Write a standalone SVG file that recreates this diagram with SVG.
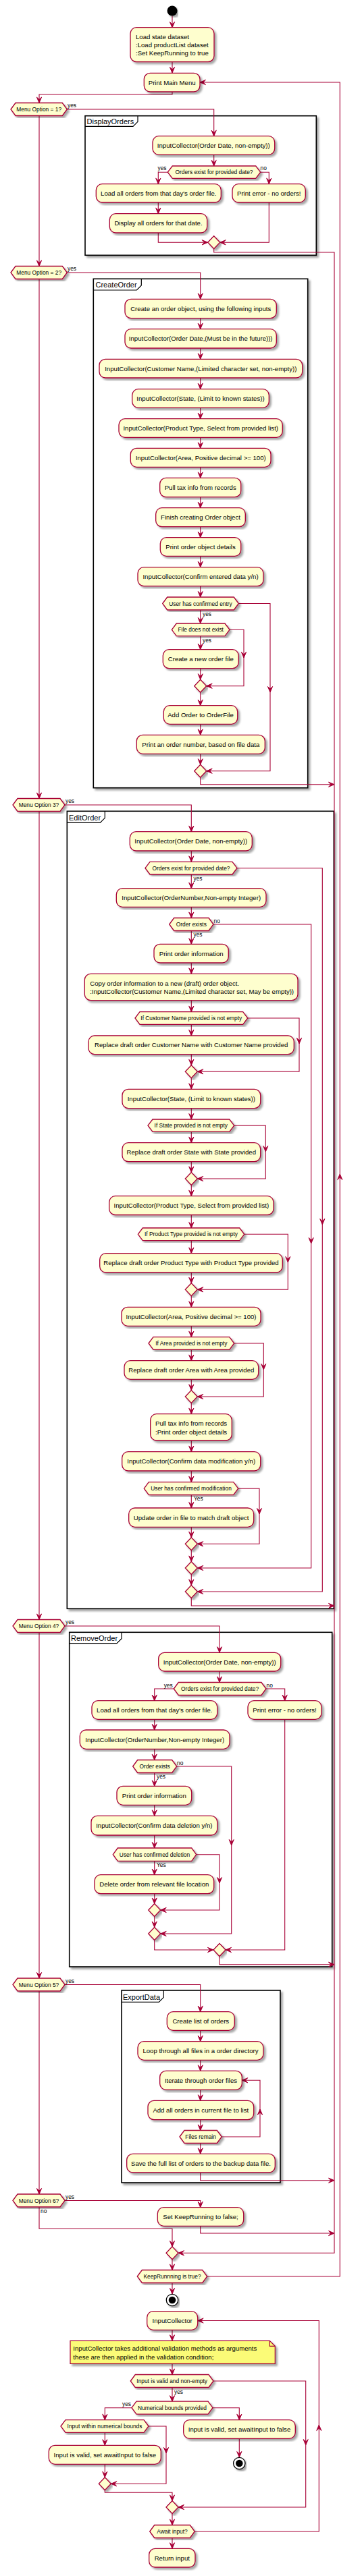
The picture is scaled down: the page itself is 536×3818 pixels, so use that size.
<svg xmlns="http://www.w3.org/2000/svg" xmlns:xlink="http://www.w3.org/1999/xlink" width="536" height="3818" viewBox="0 0 536 3818">
<defs>
<filter id="sh" x="-5%" y="-5%" width="115%" height="120%">
<feGaussianBlur in="SourceAlpha" stdDeviation="1.4"/>
<feOffset dx="3" dy="3" result="o"/>
<feComponentTransfer><feFuncA type="linear" slope="0.35"/></feComponentTransfer>
<feMerge><feMergeNode/><feMergeNode in="SourceGraphic"/></feMerge>
</filter>
<path id="ad" class="ah" d="M0,0 L-3.6,-8.5 L0,-5 L3.6,-8.5 Z"/>
<path id="au" class="ah" d="M0,0 L-3.6,8.5 L0,5 L3.6,8.5 Z"/>
<path id="ar" class="ah" d="M0,0 L-8.5,-3.6 L-5,0 L-8.5,3.6 Z"/>
<path id="al" class="ah" d="M0,0 L8.5,-3.6 L5,0 L8.5,3.6 Z"/>
</defs>
<style>
.box{fill:#FEFECE;stroke:#A80036;stroke-width:1.3;filter:url(#sh)}
.hex{fill:#FEFECE;stroke:#A80036;stroke-width:1.3;filter:url(#sh)}
.frm{fill:#fff;stroke:#000;stroke-width:1.6;filter:url(#sh)}
.tab{fill:none;stroke:#000;stroke-width:1.2}
.note{fill:#FBFB77;stroke:#A80036;stroke-width:1.2;filter:url(#sh)}
.ln{fill:none;stroke:#A80036;stroke-width:1.1}
.ah{fill:#A80036;stroke:#A80036;stroke-width:1}
text{font-family:"Liberation Sans",Arial,sans-serif;fill:#000}
.t{font-size:9.6px;text-anchor:middle}
.tl{font-size:9.6px}
.ht{font-size:8.4px;text-anchor:middle}
.lb{font-size:8.4px}
.lbe{font-size:8.4px;text-anchor:end}
.ft{font-size:11px}
</style>
<rect x="0" y="0" width="536" height="3818" fill="#fff"/>

<g id="frames">
<g id="frame-displayorders"><rect class="frm" x="126" y="171.7" width="342.3" height="206.6"/><path class="tab" d="M126,187.3 H197 L204,180.3 V171.7"/><text class="ft" x="128.5" y="184.3">DisplayOrders</text></g>
<g id="frame-createorder"><rect class="frm" x="138.3" y="413.3" width="317.4" height="754.4"/><path class="tab" d="M138.3,430 H202.3 L209.3,423 V413.3"/><text class="ft" x="141.5" y="426.3">CreateOrder</text></g>
<g id="frame-editorder"><rect class="frm" x="99.3" y="1202.3" width="395" height="1182"/><path class="tab" d="M99.3,1219.3 H148.3 L155.3,1212.3 V1202.3"/><text class="ft" x="102" y="1216">EditOrder</text></g>
<g id="frame-removeorder"><rect class="frm" x="102.7" y="2419.3" width="389" height="495.7"/><path class="tab" d="M102.7,2435.7 H173 L180,2428.7 V2419.3"/><text class="ft" x="105" y="2432">RemoveOrder</text></g>
<g id="frame-exportdata"><rect class="frm" x="180" y="2950" width="235" height="285"/><path class="tab" d="M180,2967.3 H235.3 L242.3,2960.3 V2950"/><text class="ft" x="182" y="2963.5">ExportData</text></g>
</g>

<g id="connectors">
<path class="ln" d="M255,23.5 V41"/><use href="#ad" x="255" y="41"/>
<path class="ln" d="M255,92 V108"/><use href="#ad" x="255" y="108"/>
<path class="ln" d="M255,136 V140 H58 V152.5"/><use href="#ad" x="58" y="152.5"/>
<path class="ln" d="M99.3,162 H316.7 V201.7"/><use href="#ad" x="316.7" y="201.7"/>
<path class="ln" d="M316.7,229.3 V246"/><use href="#ad" x="316.7" y="246"/>
<path class="ln" d="M248.3,255.2 H234.3 V272.7"/><use href="#ad" x="234.3" y="272.7"/>
<path class="ln" d="M385.7,255.2 H398.3 V272.7"/><use href="#ad" x="398.3" y="272.7"/>
<path class="ln" d="M234.3,300 V316.7"/><use href="#ad" x="234.3" y="316.7"/>
<path class="ln" d="M234.3,345 V359.3 H307.7"/><use href="#ar" x="307.7" y="359.3"/>
<path class="ln" d="M398.3,300 V359.3 H325.7"/><use href="#al" x="325.7" y="359.3"/>
<path class="ln" d="M316.7,368.8 V374 H495 V3339.3 H264"/><use href="#al" x="264" y="3339.3"/>
<path class="ln" d="M58,171.5 V394.5"/><use href="#ad" x="58" y="394.5"/>
<path class="ln" d="M99.3,404 H296.7 V443.3"/><use href="#ad" x="296.7" y="443.3"/>
<path class="ln" d="M296.7,471.7 V487.7"/><use href="#ad" x="296.7" y="487.7"/>
<path class="ln" d="M296.7,516 V532.3"/><use href="#ad" x="296.7" y="532.3"/>
<path class="ln" d="M296.7,560 V576.7"/><use href="#ad" x="296.7" y="576.7"/>
<path class="ln" d="M296.7,604.3 V620.7"/><use href="#ad" x="296.7" y="620.7"/>
<path class="ln" d="M296.7,648.3 V664.3"/><use href="#ad" x="296.7" y="664.3"/>
<path class="ln" d="M296.7,692.3 V708.3"/><use href="#ad" x="296.7" y="708.3"/>
<path class="ln" d="M296.7,736.7 V752.7"/><use href="#ad" x="296.7" y="752.7"/>
<path class="ln" d="M296.7,780.7 V796.7"/><use href="#ad" x="296.7" y="796.7"/>
<path class="ln" d="M296.7,824.3 V840.7"/><use href="#ad" x="296.7" y="840.7"/>
<path class="ln" d="M296.7,868.7 V885"/><use href="#ad" x="296.7" y="885"/>
<path class="ln" d="M296.7,904 V924"/><use href="#ad" x="296.7" y="924"/>
<path class="ln" d="M296.7,942.7 V962.7"/><use href="#ad" x="296.7" y="962.7"/>
<path class="ln" d="M340,933.3 H361 V1016.7 H305.7"/><use href="#ad" x="361" y="975"/><use href="#al" x="305.7" y="1016.7"/>
<path class="ln" d="M296.7,990.7 V1007.2"/><use href="#ad" x="296.7" y="1007.2"/>
<path class="ln" d="M296.7,1026.2 V1045.7"/><use href="#ad" x="296.7" y="1045.7"/>
<path class="ln" d="M296.7,1073.3 V1089.3"/><use href="#ad" x="296.7" y="1089.3"/>
<path class="ln" d="M296.7,1117.3 V1133.2"/><use href="#ad" x="296.7" y="1133.2"/>
<path class="ln" d="M353.3,894.5 H400 V1142.7 H305.7"/><use href="#ad" x="400" y="1026"/><use href="#al" x="305.7" y="1142.7"/>
<path class="ln" d="M296.7,1152.2 V1162.7 H495"/><use href="#ar" x="495" y="1162.7"/>
<path class="ln" d="M58,413.5 V1183.5"/><use href="#ad" x="58" y="1183.5"/>
<path class="ln" d="M96,1193 H283.3 V1232.7"/><use href="#ad" x="283.3" y="1232.7"/>
<path class="ln" d="M283.3,1261 V1277.3"/><use href="#ad" x="283.3" y="1277.3"/>
<path class="ln" d="M283.3,1296 V1316.7"/><use href="#ad" x="283.3" y="1316.7"/>
<path class="ln" d="M283.3,1344.3 V1360.5"/><use href="#ad" x="283.3" y="1360.5"/>
<path class="ln" d="M283.3,1379.5 V1399.3"/><use href="#ad" x="283.3" y="1399.3"/>
<path class="ln" d="M283.3,1427 V1443.3"/><use href="#ad" x="283.3" y="1443.3"/>
<path class="ln" d="M283.3,1482.7 V1499.7"/><use href="#ad" x="283.3" y="1499.7"/>
<path class="ln" d="M283.3,1518.3 V1535"/><use href="#ad" x="283.3" y="1535"/>
<path class="ln" d="M283.3,1562.7 V1578.8"/><use href="#ad" x="283.3" y="1578.8"/>
<path class="ln" d="M366.7,1509 H443 V1588.3 H292.3"/><use href="#ad" x="443" y="1547"/><use href="#al" x="292.3" y="1588.3"/>
<path class="ln" d="M283.3,1597.8 V1614.3"/><use href="#ad" x="283.3" y="1614.3"/>
<path class="ln" d="M283.3,1642.7 V1659"/><use href="#ad" x="283.3" y="1659"/>
<path class="ln" d="M283.3,1677.3 V1693.7"/><use href="#ad" x="283.3" y="1693.7"/>
<path class="ln" d="M283.3,1721.7 V1737.5"/><use href="#ad" x="283.3" y="1737.5"/>
<path class="ln" d="M346.7,1668.2 H393.3 V1747 H292.3"/><use href="#ad" x="393.3" y="1707"/><use href="#al" x="292.3" y="1747"/>
<path class="ln" d="M283.3,1756.5 V1772.7"/><use href="#ad" x="283.3" y="1772.7"/>
<path class="ln" d="M283.3,1800.7 V1820"/><use href="#ad" x="283.3" y="1820"/>
<path class="ln" d="M283.3,1838.7 V1857.7"/><use href="#ad" x="283.3" y="1857.7"/>
<path class="ln" d="M283.3,1886 V1901.8"/><use href="#ad" x="283.3" y="1901.8"/>
<path class="ln" d="M361.7,1829.3 H426.3 V1911.3 H292.3"/><use href="#ad" x="426.3" y="1871"/><use href="#al" x="292.3" y="1911.3"/>
<path class="ln" d="M283.3,1920.8 V1937.3"/><use href="#ad" x="283.3" y="1937.3"/>
<path class="ln" d="M283.3,1965.3 V1981.7"/><use href="#ad" x="283.3" y="1981.7"/>
<path class="ln" d="M283.3,2000.3 V2016.7"/><use href="#ad" x="283.3" y="2016.7"/>
<path class="ln" d="M283.3,2044.3 V2060.5"/><use href="#ad" x="283.3" y="2060.5"/>
<path class="ln" d="M346.7,1991 H390.3 V2070 H292.3"/><use href="#ad" x="390.3" y="2030"/><use href="#al" x="292.3" y="2070"/>
<path class="ln" d="M283.3,2079.5 V2095.7"/><use href="#ad" x="283.3" y="2095.7"/>
<path class="ln" d="M283.3,2135 V2151.7"/><use href="#ad" x="283.3" y="2151.7"/>
<path class="ln" d="M283.3,2180 V2196.7"/><use href="#ad" x="283.3" y="2196.7"/>
<path class="ln" d="M283.3,2215.7 V2235"/><use href="#ad" x="283.3" y="2235"/>
<path class="ln" d="M283.3,2263.3 V2278.8"/><use href="#ad" x="283.3" y="2278.8"/>
<path class="ln" d="M352.7,2206.2 H384 V2288.3 H292.3"/><use href="#ad" x="384" y="2244"/><use href="#al" x="292.3" y="2288.3"/>
<path class="ln" d="M283.3,2297.8 V2314.5"/><use href="#ad" x="283.3" y="2314.5"/>
<path class="ln" d="M316,1370 H460.7 V2324 H292.3"/><use href="#ad" x="460.7" y="1843"/><use href="#al" x="292.3" y="2324"/>
<path class="ln" d="M283.3,2333.5 V2349.5"/><use href="#ad" x="283.3" y="2349.5"/>
<path class="ln" d="M351,1286.7 H477.3 V2359 H292.3"/><use href="#ad" x="477.3" y="1815"/><use href="#al" x="292.3" y="2359"/>
<path class="ln" d="M283.3,2368.5 V2380 H495"/><use href="#ar" x="495" y="2380"/>
<path class="ln" d="M58,1202.5 V2400.5"/><use href="#ad" x="58" y="2400.5"/>
<path class="ln" d="M96,2410 H325 V2449.3"/><use href="#ad" x="325" y="2449.3"/>
<path class="ln" d="M325,2477 V2493.5"/><use href="#ad" x="325" y="2493.5"/>
<path class="ln" d="M257.3,2503 H228.7 V2520.7"/><use href="#ad" x="228.7" y="2520.7"/>
<path class="ln" d="M394,2503 H421.7 V2520.7"/><use href="#ad" x="421.7" y="2520.7"/>
<path class="ln" d="M228.7,2548.3 V2564"/><use href="#ad" x="228.7" y="2564"/>
<path class="ln" d="M228.7,2592.3 V2608.5"/><use href="#ad" x="228.7" y="2608.5"/>
<path class="ln" d="M228.7,2627.5 V2647.3"/><use href="#ad" x="228.7" y="2647.3"/>
<path class="ln" d="M228.7,2675.3 V2691.3"/><use href="#ad" x="228.7" y="2691.3"/>
<path class="ln" d="M228.7,2720 V2739"/><use href="#ad" x="228.7" y="2739"/>
<path class="ln" d="M228.7,2758.3 V2778.7"/><use href="#ad" x="228.7" y="2778.7"/>
<path class="ln" d="M228.7,2806.7 V2821.5"/><use href="#ad" x="228.7" y="2821.5"/>
<path class="ln" d="M290.7,2748.7 H325 V2831 H237.7"/><use href="#ad" x="325" y="2791"/><use href="#al" x="237.7" y="2831"/>
<path class="ln" d="M228.7,2840.5 V2856.5"/><use href="#ad" x="228.7" y="2856.5"/>
<path class="ln" d="M261.7,2618 H342.7 V2866 H237.7"/><use href="#ad" x="342.7" y="2735"/><use href="#al" x="237.7" y="2866"/>
<path class="ln" d="M228.7,2875.5 V2890 H316"/><use href="#ar" x="316" y="2890"/>
<path class="ln" d="M421.7,2548.3 V2890 H334"/><use href="#al" x="334" y="2890"/>
<path class="ln" d="M325,2899.5 V2911.7 H495"/><use href="#ar" x="495" y="2911.7"/>
<path class="ln" d="M58,2419.5 V2932"/><use href="#ad" x="58" y="2932"/>
<path class="ln" d="M96,2941.5 H296.7 V2981.7"/><use href="#ad" x="296.7" y="2981.7"/>
<path class="ln" d="M296.7,3009.3 V3025.7"/><use href="#ad" x="296.7" y="3025.7"/>
<path class="ln" d="M296.7,3053.3 V3069.3"/><use href="#ad" x="296.7" y="3069.3"/>
<path class="ln" d="M296.7,3097.3 V3113.3"/><use href="#ad" x="296.7" y="3113.3"/>
<path class="ln" d="M296.7,3141.7 V3157.5"/><use href="#ad" x="296.7" y="3157.5"/>
<path class="ln" d="M328.3,3167 H385 V3083.3 H358.3"/><use href="#au" x="385" y="3126"/><use href="#al" x="358.3" y="3083.3"/>
<path class="ln" d="M296.7,3176.5 V3192.3"/><use href="#ad" x="296.7" y="3192.3"/>
<path class="ln" d="M296.7,3220 V3231.7 H495"/><use href="#ar" x="495" y="3231.7"/>
<path class="ln" d="M58,2951 V3252"/><use href="#ad" x="58" y="3252"/>
<path class="ln" d="M96,3261.5 H296.7 V3271.7"/><use href="#ad" x="296.7" y="3271.7"/>
<path class="ln" d="M296.7,3299.3 V3310 H495"/><use href="#ar" x="495" y="3310"/>
<path class="ln" d="M58,3271 V3303.3 H255 V3329.8"/><use href="#ad" x="255" y="3329.8"/>
<path class="ln" d="M255,3348.8 V3364.5"/><use href="#ad" x="255" y="3364.5"/>
<path class="ln" d="M306.7,3374 H503.3 V122 H296"/><use href="#au" x="503.3" y="1740"/><use href="#al" x="296" y="122"/>
<path class="ln" d="M255,3383.5 V3400"/><use href="#ad" x="255" y="3400"/>
<path class="ln" d="M255,3453.3 V3469.3"/><use href="#ad" x="255" y="3469.3"/>
<path class="ln" d="M255,3503.3 V3519.5"/><use href="#ad" x="255" y="3519.5"/>
<path class="ln" d="M255,3538.5 V3559.2"/><use href="#ad" x="255" y="3559.2"/>
<path class="ln" d="M195,3568.7 H155.3 V3586.7"/><use href="#ad" x="155.3" y="3586.7"/>
<path class="ln" d="M315,3568.7 H354.3 V3586.7"/><use href="#ad" x="354.3" y="3586.7"/>
<path class="ln" d="M155.3,3605.3 V3624.3"/><use href="#ad" x="155.3" y="3624.3"/>
<path class="ln" d="M354.3,3614.3 V3642"/><use href="#ad" x="354.3" y="3642"/>
<path class="ln" d="M220,3596 H246 V3681.3 H164.3"/><use href="#ad" x="246" y="3636"/><use href="#al" x="164.3" y="3681.3"/>
<path class="ln" d="M155.3,3652.3 V3671.8"/><use href="#ad" x="155.3" y="3671.8"/>
<path class="ln" d="M155.3,3690.8 V3694.3 H255 V3706.5"/><use href="#ad" x="255" y="3706.5"/>
<path class="ln" d="M316,3529 H452.7 V3716 H264"/><use href="#ad" x="452.7" y="3624"/><use href="#al" x="264" y="3716"/>
<path class="ln" d="M255,3725.5 V3742.5"/><use href="#ad" x="255" y="3742.5"/>
<path class="ln" d="M288.3,3752 H472.3 V3439.5 H292.7"/><use href="#au" x="472.3" y="3594"/><use href="#al" x="292.7" y="3439.5"/>
<path class="ln" d="M255,3761.5 V3777.3"/><use href="#ad" x="255" y="3777.3"/>
</g>

<g id="labels">
<text class="lb" x="100" y="159">yes</text>
<text class="lbe" x="246.5" y="252">yes</text><text class="lb" x="385.5" y="252">no</text>
<text class="lb" x="100" y="401">yes</text>
<text class="lb" x="300" y="912.5">yes</text>
<text class="lb" x="300" y="951.5">yes</text>
<text class="lb" x="97" y="1190">yes</text>
<text class="lb" x="286.5" y="1304.5">yes</text>
<text class="lb" x="316.5" y="1368">no</text>
<text class="lb" x="286.5" y="1387.5">yes</text>
<text class="lb" x="287" y="2224">Yes</text>
<text class="lb" x="97" y="2407">yes</text>
<text class="lbe" x="255.7" y="2500.5">yes</text><text class="lb" x="394.5" y="2500.5">no</text>
<text class="lb" x="262" y="2616">no</text>
<text class="lb" x="232" y="2636">yes</text>
<text class="lb" x="232" y="2767">Yes</text>
<text class="lb" x="97" y="2939">yes</text>
<text class="lb" x="97" y="3259">yes</text>
<text class="lb" x="60" y="3280">no</text>
<text class="lb" x="258" y="3547.5">yes</text>
<text class="lbe" x="194" y="3566">yes</text>
</g>

<g id="main">
<g id="start"><circle cx="255" cy="16" r="7.5" fill="#000" style="filter:url(#sh)"/></g>
<g id="load"><rect class="box" x="193" y="40.7" width="124" height="51" rx="9"/><text class="tl" x="201" y="57.8">Load state dataset</text><text class="tl" x="201" y="70">:Load productList dataset</text><text class="tl" x="201" y="82.2">:Set KeepRunning to true</text></g>
<g id="print-main-menu"><rect class="box" x="213.3" y="108.3" width="82.7" height="27.7" rx="9"/><text class="t" x="254.7" y="125.6">Print Main Menu</text></g>
<g id="opt1"><polygon class="hex" points="16,162 23,152.5 92.3,152.5 99.3,162 92.3,171.5 23,171.5"/><text class="ht" x="57.7" y="165">Menu Option = 1?</text></g>
<g id="opt2"><polygon class="hex" points="16,404 23,394.5 92.3,394.5 99.3,404 92.3,413.5 23,413.5"/><text class="ht" x="57.7" y="407">Menu Option = 2?</text></g>
<g id="opt3"><polygon class="hex" points="19,1193 26,1183.5 89,1183.5 96,1193 89,1202.5 26,1202.5"/><text class="ht" x="57.5" y="1196">Menu Option 3?</text></g>
<g id="opt4"><polygon class="hex" points="19,2410 26,2400.5 89,2400.5 96,2410 89,2419.5 26,2419.5"/><text class="ht" x="57.5" y="2413">Menu Option 4?</text></g>
<g id="opt5"><polygon class="hex" points="19,2941.5 26,2932 89,2932 96,2941.5 89,2951 26,2951"/><text class="ht" x="57.5" y="2944.5">Menu Option 5?</text></g>
<g id="opt6"><polygon class="hex" points="19,3261.5 26,3252 89,3252 96,3261.5 89,3271 26,3271"/><text class="ht" x="57.5" y="3264.5">Menu Option 6?</text></g>
<g id="set-false"><rect class="box" x="233.3" y="3271.7" width="127.4" height="27.6" rx="9"/><text class="t" x="297" y="3288.9">Set KeepRunning to false;</text></g>
<g id="merge-main"><polygon class="hex" points="255,3329.8 264,3339.3 255,3348.8 246,3339.3"/></g>
<g id="keeprunning"><polygon class="hex" points="203.3,3374 210.3,3364.5 299.7,3364.5 306.7,3374 299.7,3383.5 210.3,3383.5"/><text class="ht" x="255" y="3377">KeepRunnning is true?</text></g>
<g id="end1"><circle cx="255" cy="3409" r="8.7" fill="#fff" stroke="#000" stroke-width="1.3" style="filter:url(#sh)"/><circle cx="255" cy="3409" r="5.3" fill="#000"/></g>
</g>

<g id="displayorders">
<g id="d-input-date"><rect class="box" x="226" y="201.7" width="180.7" height="27.6" rx="9"/><text class="t" x="316.3" y="218.9">InputCollector(Order Date, non-empty))</text></g>
<g id="d-exist"><polygon class="hex" points="248.3,255.2 255.3,246 378.7,246 385.7,255.2 378.7,264.3 255.3,264.3"/><text class="ht" x="317" y="258.2">Orders exist for provided date?</text></g>
<g id="d-load"><rect class="box" x="142.3" y="272.7" width="185" height="27.3" rx="9"/><text class="t" x="234.8" y="289.7">Load all orders from that day's order file.</text></g>
<g id="d-error"><rect class="box" x="344" y="272.7" width="108.3" height="27.3" rx="9"/><text class="t" x="398.2" y="289.7">Print error - no orders!</text></g>
<g id="d-display"><rect class="box" x="162.3" y="316.7" width="144.4" height="28.3" rx="9"/><text class="t" x="234.5" y="334.2">Display all orders for that date.</text></g>
<g id="d-merge"><polygon class="hex" points="316.7,349.8 325.7,359.3 316.7,368.8 307.7,359.3"/></g>
</g>

<g id="createorder">
<g id="c-create"><rect class="box" x="185" y="443.3" width="224.3" height="28.4" rx="9"/><text class="t" x="297.2" y="460.9">Create an order object, using the following inputs</text></g>
<g id="c-date"><rect class="box" x="185" y="487.7" width="224.3" height="28.3" rx="9"/><text class="t" x="297.2" y="505.2">InputCollector(Order Date,(Must be in the future)))</text></g>
<g id="c-name"><rect class="box" x="147" y="532.3" width="300.7" height="27.7" rx="9"/><text class="t" x="297.3" y="549.6">InputCollector(Customer Name,(Limited character set, non-empty))</text></g>
<g id="c-state"><rect class="box" x="195.7" y="576.7" width="202.6" height="27.6" rx="9"/><text class="t" x="297" y="593.9">InputCollector(State, (Limit to known states))</text></g>
<g id="c-product"><rect class="box" x="176" y="620.7" width="242.3" height="27.6" rx="9"/><text class="t" x="297.2" y="637.9">InputCollector(Product Type, Select from provided list)</text></g>
<g id="c-area"><rect class="box" x="193.3" y="664.3" width="207.7" height="28" rx="9"/><text class="t" x="297.2" y="681.7">InputCollector(Area, Positive decimal &gt;= 100)</text></g>
<g id="c-tax"><rect class="box" x="236.7" y="708.3" width="120" height="28.4" rx="9"/><text class="t" x="296.7" y="725.9">Pull tax info from records</text></g>
<g id="c-finish"><rect class="box" x="230.7" y="752.7" width="132.6" height="28" rx="9"/><text class="t" x="297" y="770.1">Finish creating Order object</text></g>
<g id="c-print"><rect class="box" x="237.3" y="796.7" width="119.4" height="27.6" rx="9"/><text class="t" x="297" y="813.9">Print order object details</text></g>
<g id="c-confirm"><rect class="box" x="204" y="840.7" width="186" height="28" rx="9"/><text class="t" x="297" y="858.1">InputCollector(Confirm entered data y/n)</text></g>
<g id="c-confirmed"><polygon class="hex" points="240.7,894.5 247.7,885 346.3,885 353.3,894.5 346.3,904 247.7,904"/><text class="ht" x="297" y="897.5">User has confirmed entry</text></g>
<g id="c-nofile"><polygon class="hex" points="254.3,933.3 261.3,924 333,924 340,933.3 333,942.7 261.3,942.7"/><text class="ht" x="297.2" y="936.3">File does not exist</text></g>
<g id="c-newfile"><rect class="box" x="241.3" y="962.7" width="112" height="28" rx="9"/><text class="t" x="297.3" y="980.1">Create a new order file</text></g>
<g id="c-merge1"><polygon class="hex" points="296.7,1007.2 305.7,1016.7 296.7,1026.2 287.7,1016.7"/></g>
<g id="c-add"><rect class="box" x="242.3" y="1045.7" width="109.4" height="27.6" rx="9"/><text class="t" x="297" y="1062.9">Add Order to OrderFile</text></g>
<g id="c-number"><rect class="box" x="202.3" y="1089.3" width="190" height="28" rx="9"/><text class="t" x="297.3" y="1106.7">Print an order number, based on file data</text></g>
<g id="c-merge2"><polygon class="hex" points="296.7,1133.2 305.7,1142.7 296.7,1152.2 287.7,1142.7"/></g>
</g>

<g id="editorder">
<g id="e-date"><rect class="box" x="192.3" y="1232.7" width="181" height="28.3" rx="9"/><text class="t" x="282.8" y="1250.2">InputCollector(Order Date, non-empty))</text></g>
<g id="e-exist"><polygon class="hex" points="215,1286.7 222,1277.3 344,1277.3 351,1286.7 344,1296 222,1296"/><text class="ht" x="283" y="1289.7">Orders exist for provided date?</text></g>
<g id="e-number"><rect class="box" x="172.3" y="1316.7" width="221.7" height="27.6" rx="9"/><text class="t" x="283.2" y="1333.9">InputCollector(OrderNumber,Non-empty Integer)</text></g>
<g id="e-orderexists"><polygon class="hex" points="250.7,1370 257.7,1360.5 309,1360.5 316,1370 309,1379.5 257.7,1379.5"/><text class="ht" x="283.3" y="1373">Order exists</text></g>
<g id="e-print"><rect class="box" x="228" y="1399.3" width="110.3" height="27.7" rx="9"/><text class="t" x="283.2" y="1416.6">Print order information</text></g>
<g id="e-copy"><rect class="box" x="125.3" y="1443.3" width="315.7" height="39.4" rx="9"/><text class="tl" x="133.3" y="1460.8">Copy order information to a new (draft) order object.</text><text class="tl" x="133.3" y="1473">:InputCollector(Customer Name,(Limited character set, May be empty))</text></g>
<g id="e-ifname"><polygon class="hex" points="200,1509 207,1499.7 359.7,1499.7 366.7,1509 359.7,1518.3 207,1518.3"/><text class="ht" x="283.3" y="1512">If Customer Name provided is not empty</text></g>
<g id="e-repname"><rect class="box" x="131" y="1535" width="304.3" height="27.7" rx="9"/><text class="t" x="283.2" y="1552.2">Replace draft order Customer Name with Customer Name provided</text></g>
<g id="e-merge1"><polygon class="hex" points="283.3,1578.8 292.3,1588.3 283.3,1597.8 274.3,1588.3"/></g>
<g id="e-state"><rect class="box" x="181" y="1614.3" width="204.7" height="28.4" rx="9"/><text class="t" x="283.3" y="1631.9">InputCollector(State, (Limit to known states))</text></g>
<g id="e-ifstate"><polygon class="hex" points="219,1668.2 226,1659 339.7,1659 346.7,1668.2 339.7,1677.3 226,1677.3"/><text class="ht" x="282.8" y="1671.2">If State provided is not empty</text></g>
<g id="e-repstate"><rect class="box" x="181" y="1693.7" width="204.7" height="28" rx="9"/><text class="t" x="283.3" y="1711.1">Replace draft order State with State provided</text></g>
<g id="e-merge2"><polygon class="hex" points="283.3,1737.5 292.3,1747 283.3,1756.5 274.3,1747"/></g>
<g id="e-product"><rect class="box" x="161.7" y="1772.7" width="243.3" height="28" rx="9"/><text class="t" x="283.3" y="1790.1">InputCollector(Product Type, Select from provided list)</text></g>
<g id="e-ifproduct"><polygon class="hex" points="204.3,1829.3 211.3,1820 354.7,1820 361.7,1829.3 354.7,1838.7 211.3,1838.7"/><text class="ht" x="283" y="1832.3">If Product Type provided is not empty</text></g>
<g id="e-repproduct"><rect class="box" x="147.7" y="1857.7" width="270.6" height="28.3" rx="9"/><text class="t" x="283" y="1875.2">Replace draft order Product Type with Product Type provided</text></g>
<g id="e-merge3"><polygon class="hex" points="283.3,1901.8 292.3,1911.3 283.3,1920.8 274.3,1911.3"/></g>
<g id="e-area"><rect class="box" x="180" y="1937.3" width="206" height="28" rx="9"/><text class="t" x="283" y="1954.7">InputCollector(Area, Positive decimal &gt;= 100)</text></g>
<g id="e-ifarea"><polygon class="hex" points="220,1991 227,1981.7 339.7,1981.7 346.7,1991 339.7,2000.3 227,2000.3"/><text class="ht" x="283.3" y="1994">If Area provided is not empty</text></g>
<g id="e-reparea"><rect class="box" x="184" y="2016.7" width="198.7" height="27.6" rx="9"/><text class="t" x="283.3" y="2033.9">Replace draft order Area with Area provided</text></g>
<g id="e-merge4"><polygon class="hex" points="283.3,2060.5 292.3,2070 283.3,2079.5 274.3,2070"/></g>
<g id="e-tax"><rect class="box" x="222.7" y="2095.7" width="120.6" height="39.3" rx="9"/><text class="tl" x="230" y="2113.3">Pull tax info from records</text><text class="tl" x="230" y="2125.6">:Print order object details</text></g>
<g id="e-confirm"><rect class="box" x="180.7" y="2151.7" width="205" height="28.3" rx="9"/><text class="t" x="283.2" y="2169.2">InputCollector(Confirm data modification y/n)</text></g>
<g id="e-confirmed"><polygon class="hex" points="213.3,2206.2 220.3,2196.7 345.7,2196.7 352.7,2206.2 345.7,2215.7 220.3,2215.7"/><text class="ht" x="283" y="2209.2">User has confirmed modification</text></g>
<g id="e-update"><rect class="box" x="190.7" y="2235" width="185" height="28.3" rx="9"/><text class="t" x="283.2" y="2252.6">Update order in file to match draft object</text></g>
<g id="e-merge5"><polygon class="hex" points="283.3,2278.8 292.3,2288.3 283.3,2297.8 274.3,2288.3"/></g>
<g id="e-merge6"><polygon class="hex" points="283.3,2314.5 292.3,2324 283.3,2333.5 274.3,2324"/></g>
<g id="e-merge7"><polygon class="hex" points="283.3,2349.5 292.3,2359 283.3,2368.5 274.3,2359"/></g>
</g>

<g id="removeorder">
<g id="r-date"><rect class="box" x="234.7" y="2449.3" width="181" height="27.7" rx="9"/><text class="t" x="325.2" y="2466.6">InputCollector(Order Date, non-empty))</text></g>
<g id="r-exist"><polygon class="hex" points="257.3,2503 264.3,2493.5 387,2493.5 394,2503 387,2512.5 264.3,2512.5"/><text class="ht" x="325.6" y="2506">Orders exist for provided date?</text></g>
<g id="r-load"><rect class="box" x="136" y="2520.7" width="185.7" height="27.6" rx="9"/><text class="t" x="228.8" y="2537.9">Load all orders from that day's order file.</text></g>
<g id="r-error"><rect class="box" x="367" y="2520.7" width="109" height="27.6" rx="9"/><text class="t" x="421.5" y="2537.9">Print error - no orders!</text></g>
<g id="r-number"><rect class="box" x="118.3" y="2564" width="221.7" height="28.3" rx="9"/><text class="t" x="229.2" y="2581.6">InputCollector(OrderNumber,Non-empty Integer)</text></g>
<g id="r-orderexists"><polygon class="hex" points="196.7,2618 203.7,2608.5 254.7,2608.5 261.7,2618 254.7,2627.5 203.7,2627.5"/><text class="ht" x="229.2" y="2621">Order exists</text></g>
<g id="r-print"><rect class="box" x="173" y="2647.3" width="110.7" height="28" rx="9"/><text class="t" x="228.3" y="2664.7">Print order information</text></g>
<g id="r-confirm"><rect class="box" x="135" y="2691.3" width="186.7" height="28.7" rx="9"/><text class="t" x="228.3" y="2709.1">InputCollector(Confirm data deletion y/n)</text></g>
<g id="r-confirmed"><polygon class="hex" points="167.3,2748.7 174.3,2739 283.7,2739 290.7,2748.7 283.7,2758.3 174.3,2758.3"/><text class="ht" x="229" y="2751.7">User has confirmed deletion</text></g>
<g id="r-delete"><rect class="box" x="140" y="2778.7" width="176.7" height="28" rx="9"/><text class="t" x="228.3" y="2796.1">Delete order from relevant file location</text></g>
<g id="r-merge1"><polygon class="hex" points="228.7,2821.5 237.7,2831 228.7,2840.5 219.7,2831"/></g>
<g id="r-merge2"><polygon class="hex" points="228.7,2856.5 237.7,2866 228.7,2875.5 219.7,2866"/></g>
<g id="r-merge3"><polygon class="hex" points="325,2880.5 334,2890 325,2899.5 316,2890"/></g>
</g>

<g id="exportdata">
<g id="x-create"><rect class="box" x="247.3" y="2981.7" width="100" height="27.6" rx="9"/><text class="t" x="297.3" y="2998.9">Create list of orders</text></g>
<g id="x-loop"><rect class="box" x="204" y="3025.7" width="186" height="27.6" rx="9"/><text class="t" x="297" y="3042.9">Loop through all files in a order directory</text></g>
<g id="x-iterate"><rect class="box" x="236.7" y="3069.3" width="121.6" height="28" rx="9"/><text class="t" x="297.5" y="3086.7">Iterate through order files</text></g>
<g id="x-add"><rect class="box" x="219" y="3113.3" width="156.7" height="28.4" rx="9"/><text class="t" x="297.3" y="3130.9">Add all orders in current file to list</text></g>
<g id="x-remain"><polygon class="hex" points="266,3167 273,3157.5 321.3,3157.5 328.3,3167 321.3,3176.5 273,3176.5"/><text class="ht" x="297.1" y="3170">Files remain</text></g>
<g id="x-save"><rect class="box" x="187.7" y="3192.3" width="219.6" height="27.7" rx="9"/><text class="t" x="297.5" y="3209.6">Save the full list of orders to the backup data file.</text></g>
</g>

<g id="inputcollector">
<g id="i-start"><rect class="box" x="217.7" y="3425.7" width="75" height="27.6" rx="9"/><text class="t" x="255.2" y="3442.9">InputCollector</text></g>
<g id="i-note"><path class="note" d="M104,3469.3 H399.3 L407.3,3477.3 V3503.3 H104 Z"/><path d="M399.3,3469.3 V3477.3 H407.3" fill="none" stroke="#A80036" stroke-width="1.2"/><text class="tl" x="108.3" y="3484">InputCollector takes additional validation methods as arguments</text><text class="tl" x="108.3" y="3497">these are then applied in the validation condition;</text></g>
<g id="i-valid"><polygon class="hex" points="193.3,3529 200.3,3519.5 309,3519.5 316,3529 309,3538.5 200.3,3538.5"/><text class="ht" x="254.7" y="3532">Input is valid and non-empty</text></g>
<g id="i-bounds"><polygon class="hex" points="195,3568.7 202,3559.2 308,3559.2 315,3568.7 308,3578.2 202,3578.2"/><text class="ht" x="255" y="3571.7">Numerical bounds provided</text></g>
<g id="i-within"><polygon class="hex" points="90,3596 97,3586.7 213,3586.7 220,3596 213,3605.3 97,3605.3"/><text class="ht" x="155" y="3599">Input within numerical bounds</text></g>
<g id="i-valid-left"><rect class="box" x="72.3" y="3624.3" width="166" height="28" rx="9"/><text class="t" x="155.3" y="3641.7">Input is valid, set awaitInput to false</text></g>
<g id="i-valid-right"><rect class="box" x="271.7" y="3586.7" width="165.6" height="27.6" rx="9"/><text class="t" x="354.5" y="3603.9">Input is valid, set awaitInput to false</text></g>
<g id="end2"><circle cx="354.3" cy="3651" r="8.7" fill="#fff" stroke="#000" stroke-width="1.3" style="filter:url(#sh)"/><circle cx="354.3" cy="3651" r="5.3" fill="#000"/></g>
<g id="i-merge1"><polygon class="hex" points="155.3,3671.8 164.3,3681.3 155.3,3690.8 146.3,3681.3"/></g>
<g id="i-merge2"><polygon class="hex" points="255,3706.5 264,3716 255,3725.5 246,3716"/></g>
<g id="i-await"><polygon class="hex" points="221.7,3752 228.7,3742.5 281.3,3742.5 288.3,3752 281.3,3761.5 228.7,3761.5"/><text class="ht" x="255" y="3755">Await input?</text></g>
<g id="i-return"><rect class="box" x="220.7" y="3777.3" width="68.3" height="27.7" rx="9"/><text class="t" x="254.8" y="3794.6">Return input</text></g>
</g>
</svg>
